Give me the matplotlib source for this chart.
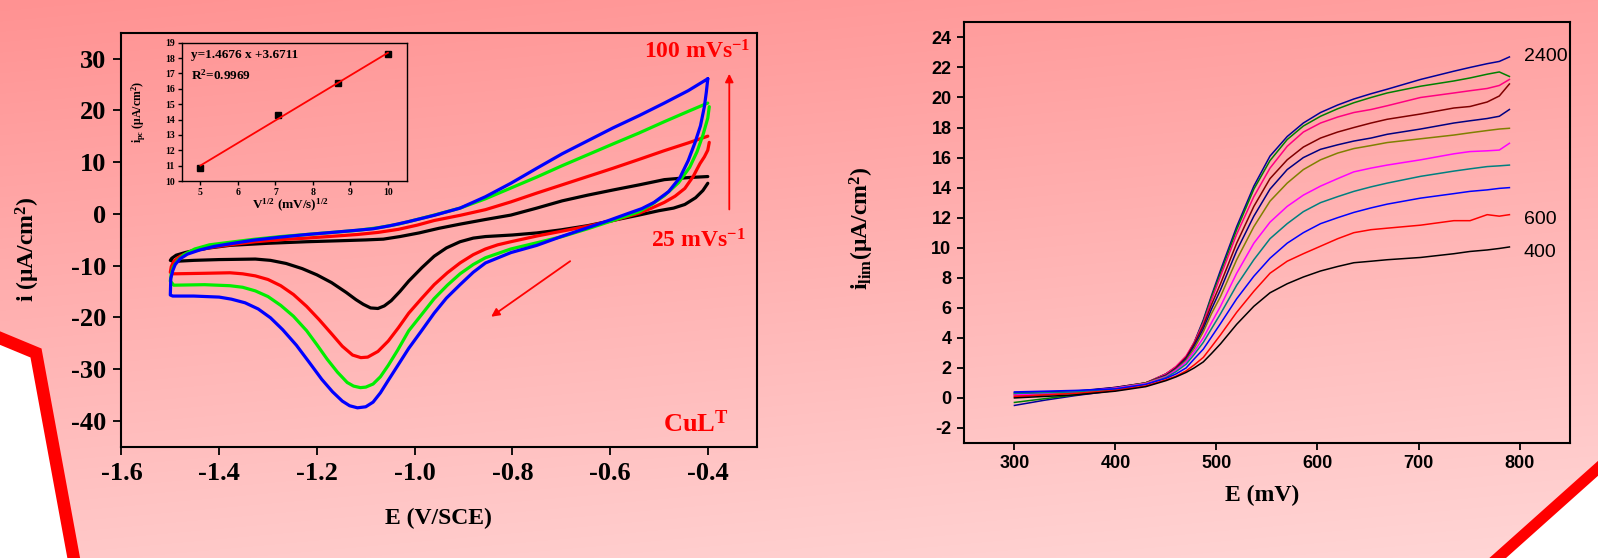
import numpy as np
import matplotlib.pyplot as plt
from matplotlib.patches import Polygon

plt.rcParams["axes.unicode_minus"] = False
plt.rcParams["mathtext.fontset"] = "custom"
plt.rcParams["mathtext.rm"] = "Liberation Serif:bold"
plt.rcParams["mathtext.bf"] = "Liberation Serif:bold"
plt.rcParams["mathtext.it"] = "Liberation Serif:bold"

SERIF = "Liberation Serif"
SANS = "Liberation Sans"

# ---- CV curves (E in V/SCE, i in uA/cm2): cathodic sweep, then return sweep
E_25 = [-0.40, -0.41, -0.425, -0.447, -0.47, -0.50, -0.541, -0.60, -0.646, -0.70,
        -0.75, -0.80, -0.855, -0.88, -0.907, -0.935, -0.96, -0.985, -1.012, -1.03,
        -1.048, -1.062, -1.075, -1.09, -1.105, -1.12, -1.14, -1.17, -1.20, -1.23,
        -1.263, -1.295, -1.326, -1.40, -1.452, -1.493, -1.50,
        -1.497, -1.488, -1.47, -1.452, -1.42, -1.378, -1.30, -1.221, -1.15,
        -1.10, -1.064, -1.03, -0.991, -0.95, -0.907, -0.855, -0.803, -0.75, -0.698,
        -0.646, -0.594, -0.54, -0.489, -0.44, -0.40]
I_25 = [5.9, 4.5, 3.1, 1.8, 1.1, 0.6, -0.25, -1.4, -2.3, -3.1,
        -3.7, -4.1, -4.4, -4.7, -5.4, -6.6, -8.2, -10.4, -13.0, -15.0,
        -16.8, -17.8, -18.3, -18.2, -17.5, -16.6, -15.2, -13.3, -11.8, -10.6,
        -9.6, -9.0, -8.75, -8.85, -9.0, -9.2, -9.0,
        -8.6, -8.0, -7.5, -7.1, -6.6, -6.1, -5.7, -5.4, -5.2,
        -5.05, -4.9, -4.4, -3.7, -2.8, -2.0, -1.1, -0.25, 1.1, 2.5,
        3.6, 4.6, 5.6, 6.6, 7.0, 7.2]

E_50 = [-0.397, -0.40, -0.407, -0.416, -0.43, -0.447, -0.467, -0.489, -0.515, -0.541,
        -0.594, -0.646, -0.698, -0.75, -0.803, -0.83, -0.855, -0.88, -0.907, -0.933,
        -0.96, -0.986, -1.012, -1.033, -1.054, -1.075, -1.096, -1.11, -1.127, -1.148,
        -1.169, -1.195, -1.221, -1.248, -1.274, -1.30, -1.326, -1.352, -1.378, -1.43,
        -1.493, -1.50,
        -1.498, -1.493, -1.48, -1.462, -1.44, -1.41, -1.37, -1.326, -1.274, -1.221,
        -1.169, -1.117, -1.075, -1.033, -0.995, -0.96, -0.907, -0.855, -0.803, -0.75,
        -0.698, -0.646, -0.594, -0.541, -0.489, -0.44, -0.40]
I_50 = [13.8, 12.3, 11.0, 9.7, 7.2, 4.9, 3.4, 2.2, 1.1, 0.1,
        -1.3, -2.4, -3.35, -4.3, -5.4, -6.0, -6.8, -7.9, -9.5, -11.4,
        -13.7, -16.4, -19.2, -22.0, -24.6, -26.6, -27.7, -27.8, -27.3, -25.6,
        -23.3, -20.5, -17.9, -15.6, -13.9, -12.7, -12.0, -11.6, -11.4, -11.5,
        -11.6, -11.3,
        -10.2, -9.2, -8.2, -7.5, -6.9, -6.4, -5.9, -5.4, -5.0, -4.7,
        -4.35, -4.0, -3.6, -3.0, -2.2, -1.3, -0.3, 0.8, 2.3, 4.0,
        5.6, 7.2, 8.8, 10.5, 12.2, 13.7, 15.0]

E_75 = [-0.397, -0.40, -0.41, -0.422, -0.437, -0.46, -0.489, -0.515, -0.541, -0.594,
        -0.646, -0.698, -0.75, -0.803, -0.855, -0.88, -0.907, -0.933, -0.96, -0.985,
        -1.012, -1.035, -1.054, -1.07, -1.085, -1.10, -1.111, -1.125, -1.138, -1.158,
        -1.179, -1.20, -1.221, -1.248, -1.274, -1.30, -1.326, -1.352, -1.378, -1.43,
        -1.493, -1.50,
        -1.498, -1.494, -1.485, -1.472, -1.45, -1.42, -1.378, -1.326, -1.274, -1.221,
        -1.169, -1.117, -1.075, -1.033, -0.995, -0.96, -0.907, -0.855, -0.80, -0.75,
        -0.698, -0.646, -0.594, -0.541, -0.489, -0.44, -0.40]
I_75 = [20.7, 18.5, 15.2, 12.0, 9.0, 6.0, 3.5, 1.8, 0.4, -1.3,
        -2.9, -4.4, -5.6, -6.8, -8.5, -9.8, -11.6, -13.8, -16.4, -19.4,
        -22.6, -26.4, -29.3, -31.5, -32.9, -33.5, -33.6, -33.3, -32.6, -30.6,
        -28.1, -25.3, -22.6, -19.8, -17.7, -16.0, -14.9, -14.2, -13.9, -13.7,
        -13.8, -13.0,
        -11.6, -10.3, -9.0, -7.9, -6.8, -6.0, -5.5, -4.9, -4.4, -4.0,
        -3.6, -3.2, -2.7, -2.0, -1.1, -0.25, 1.1, 2.9, 5.1, 7.1,
        9.3, 11.4, 13.5, 15.6, 17.8, 19.8, 21.4]

E_100 = [-0.40, -0.403, -0.407, -0.415, -0.426, -0.44, -0.457, -0.48, -0.51, -0.535,
         -0.562, -0.60, -0.646, -0.70, -0.75, -0.803, -0.855, -0.88, -0.907, -0.935,
         -0.96, -0.985, -1.012, -1.035, -1.054, -1.07, -1.085, -1.10, -1.117, -1.133,
         -1.148, -1.168, -1.19, -1.215, -1.242, -1.27, -1.295, -1.32, -1.347, -1.375,
         -1.40, -1.452, -1.495, -1.50,
         -1.499, -1.495, -1.49, -1.48, -1.465, -1.44, -1.41, -1.378, -1.33, -1.274,
         -1.22, -1.169, -1.12, -1.085, -1.05, -1.012, -0.96, -0.907, -0.855, -0.803,
         -0.75, -0.698, -0.646, -0.594, -0.54, -0.489, -0.44, -0.40]
I_100 = [26.1, 23.5, 20.7, 17.0, 13.8, 10.3, 7.0, 4.3, 2.2, 1.0,
         0.1, -1.2, -2.7, -4.4, -6.1, -7.5, -9.5, -11.3, -13.7, -16.3,
         -19.2, -22.5, -26.0, -29.4, -32.2, -34.6, -36.4, -37.3, -37.5, -37.1,
         -36.2, -34.4, -32.0, -28.8, -25.4, -22.4, -20.1, -18.4, -17.2, -16.5,
         -16.1, -15.9, -15.9, -15.7,
         -12.5, -11.0, -9.8, -8.7, -7.8, -7.0, -6.3, -5.8, -5.1, -4.5,
         -4.0, -3.6, -3.2, -2.9, -2.3, -1.5, -0.3, 1.1, 3.3, 5.9,
         8.8, 11.6, 14.1, 16.6, 19.0, 21.4, 23.8, 26.1]

cv_sets = [(E_25, I_25, "black"), (E_50, I_50, "red"),
           (E_75, I_75, "#00ee00"), (E_100, I_100, "blue")]

# ---- inset: peak current vs sqrt(scan rate)
v_sqrt = [5.0, 7.07, 8.66, 10.0]
i_pc = [10.85, 14.3, 16.4, 18.25]
slope, intercept = 1.4676, 3.6711

# ---- limiting current curves (E in mV)
E_lim = [300, 330, 360, 400, 430, 450, 460, 470, 478, 487, 495, 504, 520, 537, 553,
         570, 586, 603, 620, 636, 653, 669, 702, 735, 751, 768, 780, 790]
i_lim = {
    "2400": [-0.5, -0.15, 0.15, 0.5, 0.95, 1.6, 2.05, 2.7, 3.7, 5.2, 6.8, 8.5, 11.4, 14.1, 16.1,
             17.4, 18.3, 19.0, 19.5, 19.9, 20.25, 20.55, 21.2, 21.75, 22.0, 22.25, 22.4, 22.7],
    "green": [-0.3, -0.05, 0.2, 0.6, 1.0, 1.6, 2.05, 2.7, 3.65, 5.1, 6.7, 8.3, 11.2, 13.9, 15.8,
              17.2, 18.1, 18.75, 19.25, 19.65, 20.0, 20.3, 20.75, 21.1, 21.3, 21.55, 21.7, 21.4],
    "pink": [0.05, 0.2, 0.35, 0.65, 1.0, 1.6, 2.1, 2.8, 3.7, 5.0, 6.5, 8.1, 10.9, 13.4, 15.3,
             16.75, 17.7, 18.3, 18.7, 19.0, 19.2, 19.45, 20.0, 20.3, 20.45, 20.6, 20.8, 21.2],
    "maroon": [0.25, 0.3, 0.4, 0.7, 1.0, 1.5, 2.0, 2.7, 3.6, 4.8, 6.2, 7.6, 10.3, 12.75, 14.6,
               15.85, 16.7, 17.3, 17.7, 18.0, 18.3, 18.55, 18.9, 19.3, 19.4, 19.7, 20.1, 20.9],
    "navy": [0.35, 0.4, 0.45, 0.7, 1.0, 1.5, 1.95, 2.6, 3.45, 4.6, 5.9, 7.2, 9.8, 12.1, 13.9,
             15.2, 16.0, 16.55, 16.85, 17.1, 17.3, 17.55, 17.9, 18.3, 18.45, 18.6, 18.75, 19.2],
    "olive": [0.15, 0.25, 0.35, 0.65, 1.0, 1.45, 1.9, 2.5, 3.3, 4.4, 5.6, 6.75, 9.2, 11.4, 13.1,
              14.3, 15.2, 15.85, 16.3, 16.6, 16.8, 17.0, 17.25, 17.5, 17.65, 17.8, 17.9, 17.95],
    "magenta": [0.2, 0.3, 0.4, 0.65, 0.95, 1.4, 1.85, 2.4, 3.1, 4.0, 5.0, 6.1, 8.3, 10.3, 11.7,
                12.75, 13.5, 14.1, 14.6, 15.05, 15.3, 15.5, 15.85, 16.25, 16.4, 16.45, 16.5, 16.95],
    "teal": [0.3, 0.35, 0.4, 0.6, 0.9, 1.35, 1.75, 2.25, 2.9, 3.7, 4.6, 5.6, 7.5, 9.2, 10.6,
             11.6, 12.4, 13.0, 13.4, 13.75, 14.05, 14.3, 14.75, 15.1, 15.25, 15.4, 15.45, 15.5],
    "blue": [0.4, 0.45, 0.5, 0.6, 0.9, 1.3, 1.6, 2.0, 2.6, 3.25, 4.05, 4.95, 6.6, 8.1, 9.3,
             10.3, 11.0, 11.6, 12.0, 12.35, 12.65, 12.9, 13.3, 13.6, 13.75, 13.85, 13.95, 14.0],
    "600": [0.1, 0.2, 0.3, 0.5, 0.8, 1.2, 1.45, 1.8, 2.2, 2.7, 3.4, 4.2, 5.7, 7.1, 8.3,
            9.1, 9.6, 10.1, 10.6, 11.0, 11.2, 11.3, 11.5, 11.8, 11.8, 12.2, 12.1, 12.2],
    "400": [0.0, 0.1, 0.2, 0.45, 0.75, 1.15, 1.4, 1.7, 2.0, 2.4, 2.95, 3.6, 4.9, 6.1, 7.0,
            7.6, 8.05, 8.45, 8.75, 9.0, 9.1, 9.2, 9.35, 9.6, 9.75, 9.85, 9.95, 10.05],
}
lim_colors = {"2400": "#000099", "green": "#008000", "pink": "#ff0080", "maroon": "#800000",
              "navy": "#000080", "olive": "#808000", "magenta": "#ff00ff", "teal": "#008080",
              "blue": "#0000ff", "600": "#ff0000", "400": "#000000"}
end_labels = {"2400": 22.75, "600": 11.9, "400": 9.65}

W, H = 1598, 558
fig = plt.figure(figsize=(W / 100, H / 100), dpi=100)

# background: pink gradient with red-edged white corners
bg = fig.add_axes([0, 0, 1, 1])
yy, xx = np.mgrid[0:H:2, 0:W:2]
g = np.clip(146 + 54 * yy / H + 14 * xx / W, 0, 255) / 255
img = np.dstack([np.ones_like(g), g, g])
bg.imshow(img, extent=[0, W, H, 0], aspect="auto", interpolation="bilinear")
bg.add_patch(Polygon([(0, 338), (36, 353), (75, 558), (0, 558)], closed=True,
                     facecolor="white", edgecolor="none"))
bg.plot([-5, 36, 75], [336, 353, 565], color="#ff0000", lw=9, solid_joinstyle="miter")
bg.add_patch(Polygon([(1598, 468), (1497, 558), (1598, 558)], closed=True,
                     facecolor="white", edgecolor="none"))
bg.plot([1606, 1488], [461, 566], color="#c8c8c8", lw=7, alpha=0.5)
bg.plot([1604, 1491], [463, 564], color="#ff0000", lw=8)
bg.set_xlim(0, W)
bg.set_ylim(H, 0)
bg.axis("off")

# ---- left: cyclic voltammograms
ax = fig.add_axes([0.0760, 0.1996, 0.3975, 0.7418])
ax.set_facecolor("none")
for E, I, c in cv_sets:
    ax.plot(E, I, color=c, lw=2.3, solid_joinstyle="round", solid_capstyle="round")
ax.set_xlim(-1.6, -0.3)
ax.set_ylim(-45, 35)
ax.set_xticks(np.arange(-1.6, -0.39, 0.2))
ax.set_xticklabels(["-1.6", "-1.4", "-1.2", "-1.0", "-0.8", "-0.6", "-0.4"])
ax.set_yticks(range(-40, 31, 10))
for s in ax.spines.values():
    s.set_linewidth(1.5)
ax.tick_params(direction="out", length=6, width=1.3, pad=5)
for lab in ax.get_xticklabels() + ax.get_yticklabels():
    lab.set_fontfamily(SERIF)
    lab.set_fontweight("bold")
    lab.set_fontsize(19)

ax.text(-0.421, 31.2, r"100 mVs$^{-1}$", color="red", fontsize=17, fontfamily=SERIF,
        fontweight="bold", ha="center", va="center")
ax.text(-0.419, -5.3, r"25 mVs$^{-1}$", color="red", fontsize=17, fontfamily=SERIF,
        fontweight="bold", ha="center", va="center")
ax.text(-0.425, -40.5, r"CuL$^{\mathrm{T}}$", color="red", fontsize=19, fontfamily=SERIF,
        fontweight="bold", ha="center", va="center")
ax.annotate("", xy=(-0.356, 27.6), xytext=(-0.356, 0.3),
            arrowprops=dict(arrowstyle="-|>", color="red", lw=1.3, mutation_scale=12))
ax.annotate("", xy=(-0.848, -20.2), xytext=(-0.677, -8.85),
            arrowprops=dict(arrowstyle="-|>", color="red", lw=1.3, mutation_scale=12))

fig.text(28 / W, 1 - 249 / H, r"i (μA/cm$^{2}$)", rotation=90, fontsize=17,
         fontfamily=SERIF, fontweight="bold", ha="center", va="center")
fig.text(438 / W, 1 - 518 / H, "E (V/SCE)", fontsize=17, fontfamily=SERIF,
         fontweight="bold", ha="center", va="center")

# ---- inset
axi = fig.add_axes([0.1137, 0.6756, 0.1408, 0.2478])
axi.set_facecolor("none")
axi.plot(v_sqrt, i_pc, "s", color="black", ms=4.5)
fit_x = np.array([v_sqrt[0], v_sqrt[-1]])
axi.plot(fit_x, slope * fit_x + intercept, color="red", lw=1.3)
axi.set_xlim(4.5, 10.5)
axi.set_ylim(10, 19)
axi.set_xticks(range(5, 11))
axi.set_yticks(range(10, 20))
axi.tick_params(direction="out", length=3, width=1, pad=2)
for s in axi.spines.values():
    s.set_linewidth(1.0)
for lab in axi.get_xticklabels() + axi.get_yticklabels():
    lab.set_fontfamily(SERIF)
    lab.set_fontweight("bold")
    lab.set_fontsize(7)
axi.text(0.04, 0.91, "y=1.4676 x +3.6711", transform=axi.transAxes, fontsize=9.5,
         fontfamily=SERIF, fontweight="bold", va="center")
axi.text(0.04, 0.765, r"R$^{2}$=0.9969", transform=axi.transAxes, fontsize=9.5,
         fontfamily=SERIF, fontweight="bold", va="center")
fig.text(139 / W, 1 - 112 / H, r"i$_{pc}$ (μA/cm$^{2}$)", rotation=90, fontsize=8.5,
         fontfamily=SERIF, fontweight="bold", ha="center", va="center")
fig.text(290 / W, 1 - 205 / H, r"V$^{1/2}$ (mV/s)$^{1/2}$", fontsize=9.5,
         fontfamily=SERIF, fontweight="bold", ha="center", va="center")

# ---- right: limiting current curves
ax2 = fig.add_axes([0.6032, 0.2061, 0.3793, 0.7538])
ax2.set_facecolor("none")
for key, vals in i_lim.items():
    ax2.plot(E_lim, vals, color=lim_colors[key], lw=1.1)
for key, yv in end_labels.items():
    ax2.text(804, yv, key, fontsize=14, fontfamily=SANS, ha="left", va="center")
ax2.set_xlim(250, 850)
ax2.set_ylim(-3, 25)
ax2.set_xticks(range(300, 801, 100))
ax2.set_yticks(range(-2, 25, 2))
for s in ax2.spines.values():
    s.set_linewidth(1.5)
ax2.tick_params(direction="out", length=5, width=1.3, pad=4)
for lab in ax2.get_xticklabels() + ax2.get_yticklabels():
    lab.set_fontfamily(SANS)
    lab.set_fontweight("bold")
    lab.set_fontsize(13)

fig.text(862 / W, 1 - 228 / H, r"i$_{lim}$(μA/cm$^{2}$)", rotation=90, fontsize=17,
         fontfamily=SERIF, fontweight="bold", ha="center", va="center")
fig.text(1262 / W, 1 - 495 / H, "E (mV)", fontsize=17, fontfamily=SERIF,
         fontweight="bold", ha="center", va="center")

fig.savefig("out.png", dpi=100)
